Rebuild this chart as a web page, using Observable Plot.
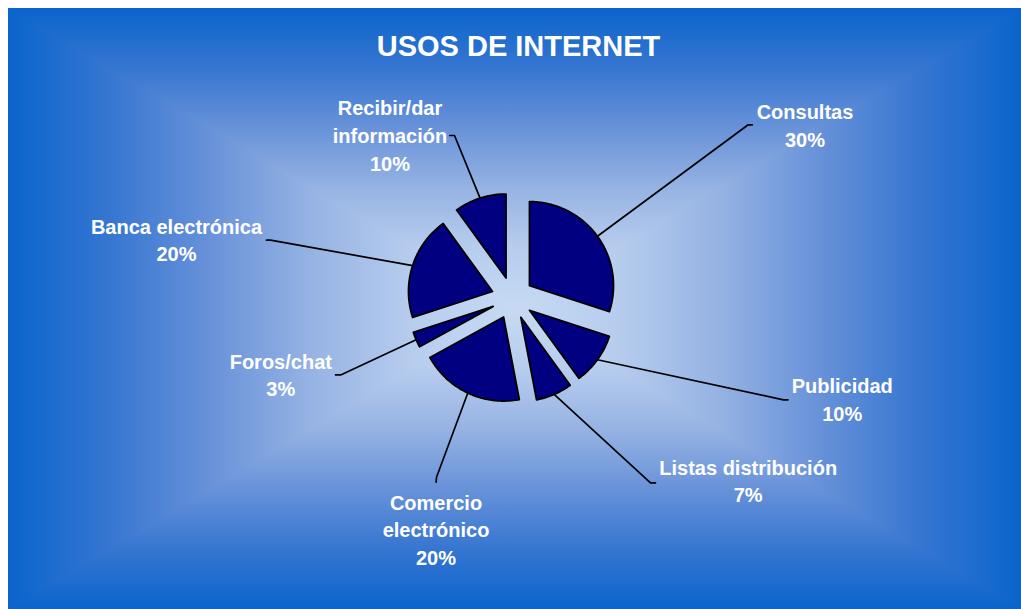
<!DOCTYPE html>
<html><head><meta charset="utf-8">
<script src="https://cdn.jsdelivr.net/npm/d3@7"></script>
<script src="https://cdn.jsdelivr.net/npm/@observablehq/plot@0.6"></script>
<style>
html,body{margin:0;padding:0;background:#fff;}
#wrap{position:relative;width:1021px;height:609px;overflow:hidden;}
#bg{position:absolute;left:8px;top:8px;width:1013px;height:601px;}
#bg div{position:absolute;left:0;top:0;width:100%;height:100%;}
#chart{position:absolute;left:0;top:0;}
#chart svg{background:transparent;}
</style></head><body>
<div id="wrap"><div id="bg"><div id="tb"></div><div id="bb"></div></div><div id="chart"></div></div>
<script>
// ---- data ----
const categories = ["Consultas","Publicidad","Listas distribución","Comercio electrónico","Foros/chat","Banca electrónica","Recibir/dar información"];
const values = [30,10,7,20,3,20,10];
const labelLines = ["Consultas","Publicidad","Listas distribución","Comercio\nelectrónico","Foros/chat","Banca electrónica","Recibir/dar\ninformación"];
const titleText = "USOS DE INTERNET";

// ---- layout (page units) ----
const W = 1021, H = 609;
const cx = 512, cy = 297.5, R = 84, explode = 21;
const labelAt = [[804.5,146],[841.7,420],[747.7,501.7],[435.5,564.3],[280.3,395.7],[176,260.7],[389.5,170]];
const elbowAt = [[747.7,124.3,751.7,124.3],[783,399.3,787.5,399.3],[650,482.3,655,482.3],[436,476.7,435.6,481.7],[340.7,374.3,335,374.3],[270,239.7,266,239.7],[454,135,449.3,135]];

// ---- background (rectangular gradient) ----
const stops = ["#0a64cc","#3676d1","#6892d9","#96b3e3","#b7cdee","#c6daf2"];
const half = stops.map((c,i)=>`${c} ${i*10}%`);
const full = half.concat(stops.slice().reverse().map((c,i)=>`${c} ${50+i*10}%`)).join(",");
const bg = document.getElementById("bg");
bg.style.background = `linear-gradient(to right, ${full})`;
const tb = document.getElementById("tb");
tb.style.background = `linear-gradient(to bottom, ${full})`;
tb.style.clipPath = "polygon(0 0, 100% 0, 50% 50%)";
const bb = document.getElementById("bb");
bb.style.background = `linear-gradient(to bottom, ${full})`;
bb.style.clipPath = "polygon(0 100%, 100% 100%, 50% 50%)";

// ---- geometry from values ----
const arcs = d3.pie().sort(null).value(d => d)(values);
const slicePts = [];
const leaderPts = [];
const labels = [];
arcs.forEach((a, i) => {
  const mid = (a.startAngle + a.endAngle) / 2;
  const ox = cx + explode * Math.sin(mid), oy = cy - explode * Math.cos(mid);
  slicePts.push({k: i, x: ox, y: oy});
  const n = Math.max(2, Math.ceil((a.endAngle - a.startAngle) / (Math.PI / 180)));
  for (let j = 0; j <= n; j++) {
    const t = a.startAngle + (a.endAngle - a.startAngle) * j / n;
    slicePts.push({k: i, x: ox + R * Math.sin(t), y: oy - R * Math.cos(t)});
  }
  const e = elbowAt[i];
  leaderPts.push({k: i, x: cx + (R + explode) * Math.sin(mid), y: cy - (R + explode) * Math.cos(mid)});
  leaderPts.push({k: i, x: e[0], y: e[1]});
  leaderPts.push({k: i, x: e[2], y: e[3]});
  labels.push({x: labelAt[i][0], y: labelAt[i][1], text: `${labelLines[i]}\n${values[i]}%`, name: categories[i]});
});

const font = "'Liberation Sans', Arial, Helvetica, sans-serif";
const chart = Plot.plot({
  width: W, height: H, margin: 0,
  x: {domain: [0, W], range: [0, W], axis: null},
  y: {domain: [0, H], range: [0, H], axis: null},
  style: {background: "transparent", fontFamily: font},
  marks: [
    Plot.line(slicePts, {x: "x", y: "y", z: "k", curve: "linear-closed", fill: "#000080", stroke: "#000", strokeWidth: 1.8, strokeLinejoin: "round"}),
    Plot.line(leaderPts, {x: "x", y: "y", z: "k", stroke: "#000", strokeWidth: 1.7}),
    Plot.text(labels, {x: "x", y: "y", text: "text", fill: "white", fontSize: 20, fontWeight: "bold", lineHeight: 1.38, lineAnchor: "bottom", textAnchor: "middle", fontFamily: font}),
    Plot.text([titleText], {x: () => 518, y: () => 55, text: d => d, fill: "white", fontSize: 29, fontWeight: "bold", lineAnchor: "bottom", textAnchor: "middle", fontFamily: font})
  ]
});
document.getElementById("chart").appendChild(chart);
</script>
</body></html>
